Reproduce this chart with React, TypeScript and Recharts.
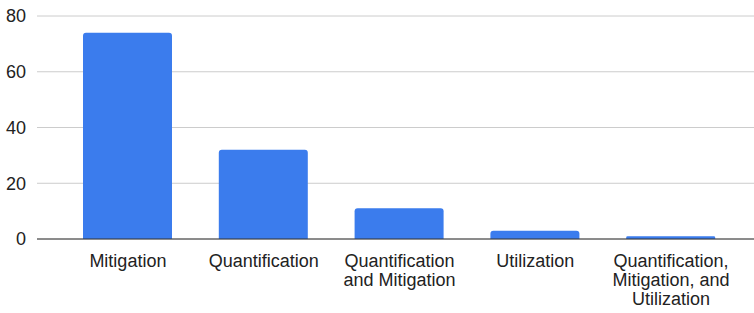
import React from "react";
import { BarChart, Bar, XAxis, YAxis, CartesianGrid } from "recharts";

const categories = [
  "Mitigation",
  "Quantification",
  "Quantification and Mitigation",
  "Utilization",
  "Quantification, Mitigation, and Utilization",
];
const counts = [74, 32, 11, 3, 1];
const yTicks = [0, 20, 40, 60, 80];
const categoryLines: string[][] = [
  ["Mitigation"],
  ["Quantification"],
  ["Quantification", "and Mitigation"],
  ["Utilization"],
  ["Quantification,", "Mitigation, and", "Utilization"],
];

const data = categories.map((c, i) => ({ name: c, value: counts[i] }));

const FONT = '"Liberation Sans", Arial, Helvetica, sans-serif';

const CatTick = (props: any) => {
  const { x, y, payload } = props;
  const idx = categories.indexOf(payload.value);
  const lines = idx >= 0 ? categoryLines[idx] : [String(payload.value)];
  return (
    <text
      x={x}
      y={y + 27.5}
      textAnchor="middle"
      fontSize={18}
      fontFamily={FONT}
      fill="#222"
    >
      {lines.map((l, i) => (
        <tspan key={i} x={x} dy={i === 0 ? 0 : 19.2}>
          {l}
        </tspan>
      ))}
    </text>
  );
};

export default function App() {
  return (
    <div style={{ position: "absolute", left: 0, top: 0, width: 754, height: 313, background: "#fff" }}>
      <BarChart
        width={754}
        height={313}
        data={data}
        margin={{ top: 16, right: 0, bottom: 0, left: 0 }}
      >
        <CartesianGrid vertical={false} stroke="#cccccc" strokeWidth={1} />
        <XAxis
          dataKey="name"
          height={74}
          tickLine={false}
          tickSize={0}
          tickMargin={0}
          interval={0}
          axisLine={{ stroke: "#333333", strokeWidth: 1.2 }}
          padding={{ left: 23, right: 15 }}
          tick={<CatTick />}
        />
        <YAxis
          width={37}
          domain={[0, 80]}
          ticks={yTicks}
          tickLine={false}
          axisLine={false}
          tickMargin={5}
          tick={{ fontSize: 18, fontFamily: FONT, fill: "#222" }}
        />
        <Bar
          dataKey="value"
          fill="#3b7ced"
          barSize={89}
          radius={[3, 3, 0, 0]}
          isAnimationActive={false}
        />
      </BarChart>
    </div>
  );
}
